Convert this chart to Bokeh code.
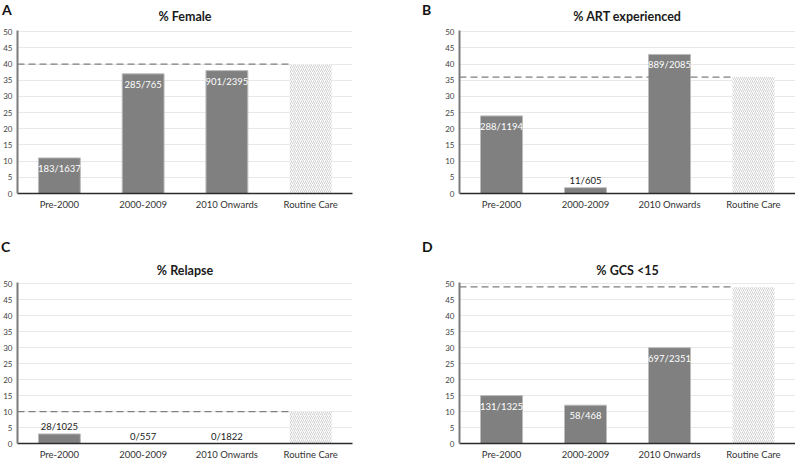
from bokeh.plotting import figure
from bokeh.models import Range1d, FactorRange, ColumnDataSource, GridBox, Div
from bokeh.embed import file_html
from bokeh.resources import INLINE
from bokeh.core.properties import value

categories = ["Pre-2000", "2000-2009", "2010 Onwards"]
routine_label = "Routine Care"

female_vals = [11, 37, 38]
female_labels = ["183/1637", "285/765", "901/2395"]
female_routine = 40

art_vals = [24, 1.8, 43]
art_labels = ["288/1194", "11/605", "889/2085"]
art_routine = 36

relapse_vals = [3, 0, 0]
relapse_labels = ["28/1025", "0/557", "0/1822"]
relapse_routine = 10

gcs_vals = [15, 12, 30]
gcs_labels = ["131/1325", "58/468", "697/2351"]
gcs_routine = 49

y_ticks = [0, 5, 10, 15, 20, 25, 30, 35, 40, 45, 50]

FONT = "Lato"
BAR = "#808080"
YMAX = 50.4


def panel(title, vals, labels, routine, width, height, bl, br, bt, bb,
          title_standoff, inside_min=8):
    factors = categories + [routine_label]
    p = figure(x_range=FactorRange(*factors, range_padding=0), y_range=Range1d(0, YMAX),
               width=width, height=height, output_backend="svg", toolbar_location=None,
               min_border_left=bl, min_border_right=br, min_border_top=bt, min_border_bottom=bb)
    p.outline_line_color = None
    p.background_fill_color = "white"
    p.border_fill_color = None
    p.title.text = title
    p.title.align = "center"
    p.title.text_font = FONT
    p.title.text_font_style = "bold"
    p.title.text_font_size = "12.5px"
    p.title.text_color = "#1a1a1a"
    p.title.standoff = title_standoff

    src = ColumnDataSource(dict(x=categories, top=vals, lab=labels))
    p.vbar(x="x", top="top", width=0.5, source=src, fill_color=BAR,
           line_color="#bdbdbd", line_width=1)
    p.vbar(x=[routine_label], top=[routine], width=0.5, fill_color="white",
           line_color=None, hatch_pattern="/", hatch_color="#cccccc",
           hatch_scale=4, hatch_weight=0.9)
    # dashed reference line from the axis to the routine-care bar
    p.line(x=[0, 3.25], y=[routine, routine], line_color="#7f7f7f",
           line_width=1.3, line_dash="7 4")

    ins = [i for i, v in enumerate(vals) if v >= inside_min]
    outs = [i for i, v in enumerate(vals) if v < inside_min]
    if ins:
        p.text(x=[categories[i] for i in ins], y=[vals[i] for i in ins],
               text=[labels[i] for i in ins], text_color="white",
               text_font=value(FONT), text_font_size="9.5px", text_align="center",
               text_baseline="top", y_offset=5)
    if outs:
        p.text(x=[categories[i] for i in outs], y=[vals[i] for i in outs],
               text=[labels[i] for i in outs], text_color="#222222",
               text_font=value(FONT), text_font_size="9.5px", text_align="center",
               text_baseline="bottom", y_offset=-2)

    p.yaxis.ticker = y_ticks
    p.yaxis.axis_line_color = "#7a7a7a"
    p.yaxis.axis_line_width = 2
    p.yaxis.major_tick_line_color = None
    p.yaxis.minor_tick_line_color = None
    p.yaxis.major_tick_out = 0
    p.yaxis.major_tick_in = 0
    p.yaxis.minor_tick_out = 0
    p.yaxis.major_label_text_font = FONT
    p.yaxis.major_label_text_font_size = "8px"
    p.yaxis.major_label_text_color = "#444444"
    p.yaxis.major_label_standoff = 5

    p.xaxis.axis_line_color = "#2b2b2b"
    p.xaxis.axis_line_width = 1.5
    p.xaxis.major_tick_line_color = None
    p.xaxis.minor_tick_line_color = None
    p.xaxis.major_tick_out = 0
    p.xaxis.major_tick_in = 0
    p.xaxis.minor_tick_out = 0
    p.xaxis.major_label_text_font = FONT
    p.xaxis.major_label_text_font_size = "9.5px"
    p.xaxis.major_label_text_color = "#333333"
    p.xaxis.major_label_standoff = 5

    p.xgrid.grid_line_color = None
    p.ygrid.grid_line_color = "#e8e8e8"
    p.ygrid.ticker = y_ticks
    return p


def letter_div(letter, left, top):
    return Div(text=letter, width=20, height=20, align="start",
               styles={"font-family": FONT, "font-weight": "bold", "font-size": "14px",
                       "color": "#111111", "line-height": "16px",
                       "margin-left": f"{left}px", "margin-top": f"{top}px",
                       "position": "relative", "z-index": "10"})


pa = panel("% Female", female_vals, female_labels, female_routine,
           397, 231, 0, 45, 30, 38, 13)
pb = panel("% ART experienced", art_vals, art_labels, art_routine,
           398, 231, 62, 0, 30, 38, 13)
pc = panel("% Relapse", relapse_vals, relapse_labels, relapse_routine,
           397, 231, 0, 45, 51, 15, 10)
pd = panel("% GCS <15", gcs_vals, gcs_labels, gcs_routine,
           398, 231, 58, 0, 51, 15, 10)

grid = GridBox(children=[
    (pa, 0, 0), (pb, 0, 1), (pc, 1, 0), (pd, 1, 1),
    (letter_div("A", 2, 2), 0, 0), (letter_div("B", 25, 2), 0, 1),
    (letter_div("C", 1, 8), 1, 0), (letter_div("D", 25, 8), 1, 1),
])

open("out.html", "w").write(file_html(grid, INLINE))
